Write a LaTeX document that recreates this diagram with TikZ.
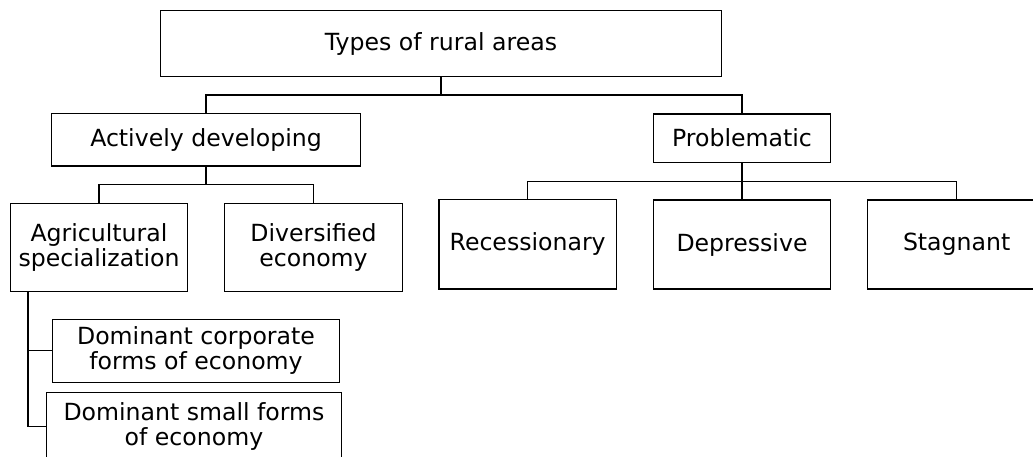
\documentclass[tikz,border=0pt]{standalone}
\usepackage{fontspec}
\setmainfont{DejaVu Sans}
\usetikzlibrary{calc}
\begin{document}
\begin{tikzpicture}[x=1pt,y=-1pt,
  box/.style={draw,line width=1.1pt,rectangle,inner sep=0pt,outer sep=0pt,align=center,
    font=\fontsize{23.6}{25}\selectfont},
  link/.style={draw,line width=1.1pt}]
\useasboundingbox (0,0) rectangle (1033,457);
\clip (0,0) rectangle (1033,457);
\node[box,minimum width=560.3pt,minimum height=66pt] (top) at (441,43.7) {Types of rural areas};
\node[box,minimum width=308.3pt,minimum height=52.3pt] (ad) at (206,139.85) {Actively developing};
\node[box,minimum width=177.2pt,minimum height=48.3pt] (prob) at (742,138.15) {Problematic};
\node[box,minimum width=177.4pt,minimum height=88pt] (agri) at (99,247.7) {Agricultural\\specialization};
\node[box,minimum width=177.6pt,minimum height=88pt] (div) at (313.5,247.7) {Diversified\\economy};
\node[box,minimum width=177.3pt,minimum height=89.3pt] (rec) at (527.65,244.35) {Recessionary};
\node[box,minimum width=176.8pt,minimum height=89pt] (dep) at (742,244.5) {Depressive};
\node[box,minimum width=178.7pt,minimum height=89pt] (stag) at (956.65,244.5) {Stagnant};
\node[box,minimum width=286.6pt,minimum height=63pt] (corp) at (196,350.8) {Dominant corporate\\forms of economy};
\node[box,minimum width=295.4pt,minimum height=68.8pt] (small) at (194,426.7) {Dominant small forms\\of economy};
\coordinate (b1) at ($(top.south)+(0,18.3)$);
\coordinate (b2) at ($(ad.south)+(0,18.3)$);
\coordinate (b3) at ($(prob.south)+(0,19)$);
\coordinate (av) at ([xshift=17.7pt]agri.south west);
\path[link] (top.south) -- (b1);
\path[link] (b1) -| (ad.north);
\path[link] (b1) -| (prob.north);
\path[link] (ad.south) -- (b2);
\path[link] (b2) -| (agri.north);
\path[link] (b2) -| (div.north);
\path[link] (prob.south) -- (b3);
\path[link] (b3) -| (rec.north);
\path[link] (b3) -- (dep.north);
\path[link] (b3) -| (stag.north);
\path[link] (av) |- (small.west);
\path[link] (av |- corp.west) -- (corp.west);
\end{tikzpicture}
\end{document}
